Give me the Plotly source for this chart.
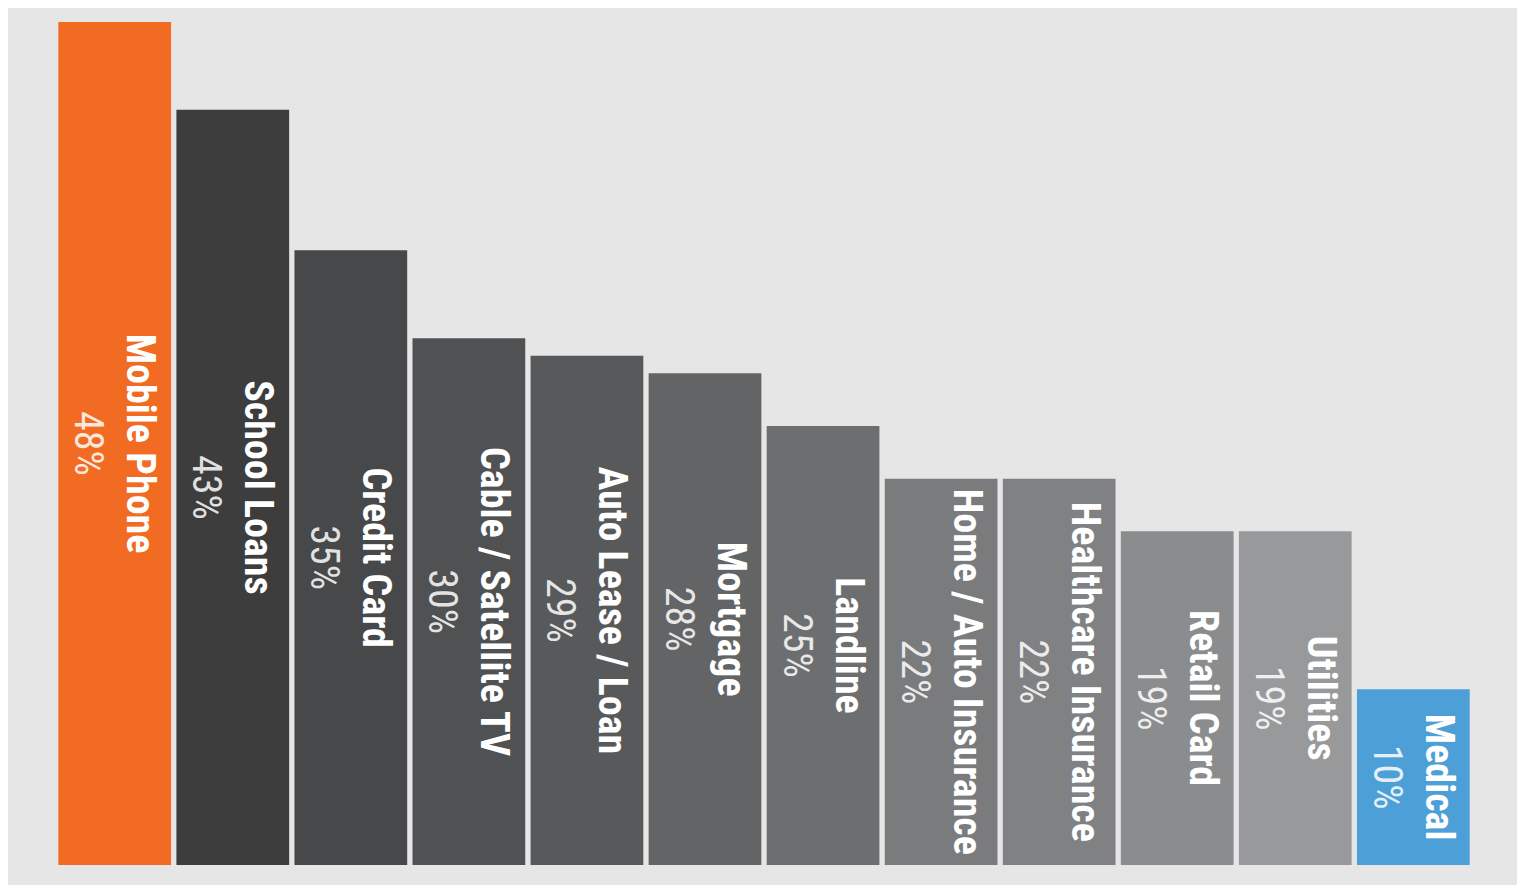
import plotly.graph_objects as go

categories = ["Mobile Phone", "School Loans", "Credit Card", "Cable / Satellite TV",
              "Auto Lease / Loan", "Mortgage", "Landline", "Home / Auto Insurance",
              "Healthcare Insurance", "Retail Card", "Utilities", "Medical"]
values = [48, 43, 35, 30, 29, 28, 25, 22, 22, 19, 19, 10]
colors = ["#f26b22", "#3d3d3e", "#47484a", "#505153", "#58595b", "#636466",
          "#6d6e70", "#7a7b7d", "#808183", "#8b8c8e", "#98999b", "#4d9fd8"]

texts = [f"<b>{c}</b><br><span style='color:rgba(255,255,255,0.85)'>{v}%</span>"
         for c, v in zip(categories, values)]

fig = go.Figure(go.Bar(
    x=list(range(len(categories))),
    y=values,
    marker=dict(color=colors, line=dict(width=0)),
    text=texts,
    textposition="inside",
    insidetextanchor="middle",
    textangle=90,
    textfont=dict(family="Roboto Condensed, DejaVu Sans Condensed, sans-serif", size=40, color="white"),
    hoverinfo="skip",
))

fig.update_layout(
    width=1513, height=883,
    margin=dict(l=0, r=0, t=0, b=6),
    paper_bgcolor="white",
    plot_bgcolor="#e6e6e6",
    bargap=0.045,
    showlegend=False,
    uniformtext=dict(minsize=40, mode="show"),
    xaxis=dict(range=[-0.904, 11.912], visible=False, fixedrange=True),
    yaxis=dict(range=[-1.14, 48.8], visible=False, fixedrange=True),
)

fig.write_html("out.html")
